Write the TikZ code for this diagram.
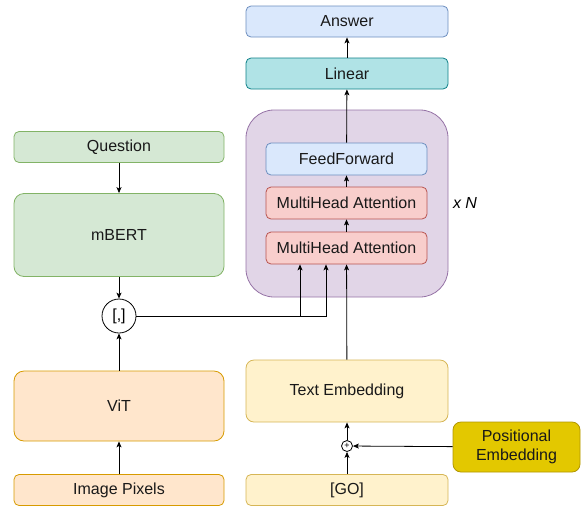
\documentclass[tikz,border=0pt]{standalone}
\usepackage{fontspec}
\setmainfont{Liberation Sans}
\usetikzlibrary{arrows.meta}

\definecolor{blueFill}{HTML}{DAE8FC}\definecolor{blueLine}{HTML}{6C8EBF}
\definecolor{tealFill}{HTML}{B0E3E6}\definecolor{tealLine}{HTML}{0E8088}
\definecolor{purpFill}{HTML}{E1D5E7}\definecolor{purpLine}{HTML}{9673A6}
\definecolor{redFill}{HTML}{F8CECC}\definecolor{redLine}{HTML}{B85450}
\definecolor{greenFill}{HTML}{D5E8D4}\definecolor{greenLine}{HTML}{82B366}
\definecolor{orangeFill}{HTML}{FFE6CC}\definecolor{orangeLine}{HTML}{D79B00}
\definecolor{yellowFill}{HTML}{FFF2CC}\definecolor{yellowLine}{HTML}{D6B656}
\definecolor{goldFill}{HTML}{E3C800}\definecolor{goldLine}{HTML}{B09500}

\begin{document}
\begin{tikzpicture}[x=1pt,y=-1pt,
  font=\fontsize{16}{18.5}\selectfont,
  box/.style={draw,rounded corners=5pt,line width=0.8pt,minimum height=31pt,inner sep=0pt,text=black!90},
  wide/.style={box,minimum width=210pt},
  mid/.style={box,minimum width=202pt},
  inner/.style={box,minimum width=161pt,minimum height=32pt},
  arrow/.style={-{Stealth[length=6pt,width=5pt,inset=1.5pt]},line width=0.8pt}]
  \useasboundingbox (0,0) rectangle (585,509);

  % decoder block
  \node[draw=purpLine,fill=purpFill,rounded corners=28pt,line width=0.8pt,
        minimum width=202pt,minimum height=187pt] (decoder) at (347,203.5) {};
  \node[inner,fill=blueFill,draw=blueLine] (ff) at (346.5,159) {FeedForward};
  \node[inner,fill=redFill,draw=redLine] (mhatwo) at (346.5,203) {MultiHead Attention};
  \node[inner,fill=redFill,draw=redLine] (mhaone) at (346.5,248) {MultiHead Attention};
  \node[font=\fontsize{16}{18.5}\selectfont\itshape] (times) at (465,203) {x N};

  % output side
  \node[mid,fill=tealFill,draw=tealLine] (linear) at (347,73.5) {Linear};
  \node[mid,fill=blueFill,draw=blueLine] (answer) at (347,21.5) {Answer};

  % question branch
  \node[wide,fill=greenFill,draw=greenLine] (question) at (119,147) {Question};
  \node[wide,fill=greenFill,draw=greenLine,rounded corners=10pt,minimum height=83pt] (mbert) at (119,235) {mBERT};
  \node[draw,circle,line width=0.8pt,minimum size=34pt,inner sep=0pt] (concat) at (119,316) {[,]};

  % image branch
  \node[wide,fill=orangeFill,draw=orangeLine,rounded corners=10pt,minimum height=70pt] (vit) at (119,406) {ViT};
  \node[wide,fill=orangeFill,draw=orangeLine] (pixels) at (119,490) {Image Pixels};

  % text branch
  \node[mid,fill=yellowFill,draw=yellowLine,rounded corners=8pt,minimum height=62pt] (textemb) at (347,391) {Text Embedding};
  \node[draw,circle,line width=0.8pt,minimum size=11pt,inner sep=0pt,font=\fontsize{9}{9}\selectfont] (plus) at (347,446) {+};
  \node[mid,fill=yellowFill,draw=yellowLine] (go) at (347,490) {[GO]};
  \node[box,fill=goldFill,draw=goldLine,rounded corners=8pt,minimum width=127pt,minimum height=50pt,
        align=center] (posemb) at (516.5,447) {Positional\\Embedding};

  % connectors
  \draw[arrow] (question) -- (mbert);
  \draw[arrow] (mbert) -- (concat);
  \draw[arrow] (vit) -- (concat);
  \draw[arrow] (pixels) -- (vit);
  \draw[arrow] (concat.east) -| ([xshift=-46.5pt]mhaone.south);
  \draw[arrow] (concat.east) -| ([xshift=-20.5pt]mhaone.south);
  \draw[arrow] (textemb) -- (mhaone);
  \draw[arrow] (mhaone) -- (mhatwo);
  \draw[arrow] (mhatwo) -- (ff);
  \draw[arrow] (ff) -- (linear);
  \draw[arrow] (linear) -- (answer);
  \draw[arrow] (go) -- (plus);
  \draw[arrow] (plus) -- (textemb);
  \draw[arrow] (posemb) -- (plus);
\end{tikzpicture}
\end{document}
